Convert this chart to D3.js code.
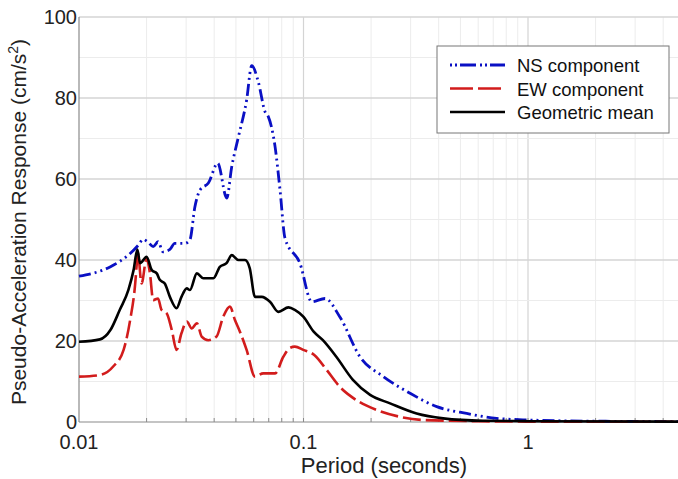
<!DOCTYPE html>
<html>
<head>
<meta charset="utf-8">
<script src="https://cdn.jsdelivr.net/npm/d3@7"></script>
<style>
  body { margin: 0; background: #fff; }
  text { font-family: "Liberation Sans", Arial, sans-serif; }
</style>
</head>
<body>
<svg id="chart" width="678" height="479"></svg>
<script>
// Periods (s) and responses (cm/s^2)
const nsPeriod = [0.01, 0.01375, 0.0169, 0.0184, 0.0193, 0.0204, 0.0214, 0.0225, 0.0237, 0.0254, 0.0267, 0.0296, 0.0312, 0.0328, 0.0346, 0.0377, 0.0415, 0.0455, 0.0479, 0.0513, 0.0558, 0.0588, 0.0629, 0.0674, 0.0697, 0.0747, 0.0786, 0.0827, 0.0964, 0.1088, 0.1247, 0.145, 0.1785, 0.227, 0.298, 0.392, 0.533, 0.725, 1, 2, 5];
const nsValue  = [36, 38.3, 41.6, 43.7, 45.1, 44.3, 43.3, 44.5, 42, 42.6, 44.1, 44.1, 45, 53, 57.3, 59, 63.9, 55.3, 63, 70.4, 79.5, 88, 84, 76.6, 75.4, 68, 57.3, 45.4, 39.2, 29.7, 30.5, 26, 16.1, 11.2, 7.1, 3.8, 2.1, 0.9, 0.5, 0.2, 0.1];

const ewPeriod = [0.01, 0.0124, 0.0142, 0.0158, 0.0169, 0.0178, 0.0181, 0.0183, 0.019, 0.02, 0.0207, 0.0214, 0.0225, 0.0233, 0.0246, 0.0259, 0.0272, 0.0286, 0.0302, 0.0318, 0.0335, 0.0352, 0.0377, 0.041, 0.0439, 0.047, 0.0495, 0.0521, 0.0558, 0.0608, 0.0662, 0.0747, 0.0813, 0.087, 0.0915, 0.0998, 0.112, 0.127, 0.145, 0.172, 0.211, 0.268, 0.34, 0.6, 1, 5];
const ewValue  = [11.2, 11.6, 13.7, 17.8, 25.2, 34.2, 39.2, 41.6, 34.2, 40.4, 36.7, 30.1, 30.5, 27.7, 26.8, 22.7, 17.8, 21.9, 24.8, 23.1, 24.4, 21.1, 20.2, 21.1, 26, 28.5, 25.2, 22.3, 17.8, 11.2, 12, 12, 16.1, 18.3, 18.6, 17.8, 16.5, 12.8, 8.7, 5.4, 3, 1.3, 0.5, 0.2, 0.1, 0.05];

const gmPeriod = [0.01, 0.0124, 0.0138, 0.0152, 0.0166, 0.0175, 0.0182, 0.0187, 0.02, 0.0211, 0.0222, 0.0229, 0.0241, 0.0254, 0.0272, 0.0286, 0.0302, 0.0312, 0.0335, 0.0358, 0.0397, 0.0424, 0.0454, 0.0479, 0.0513, 0.0549, 0.0576, 0.0608, 0.0652, 0.0709, 0.0773, 0.0857, 0.0915, 0.0998, 0.111, 0.122, 0.14, 0.166, 0.198, 0.243, 0.319, 0.419, 0.63, 1, 5];
const gmValue  = [19.8, 20.4, 22.7, 27.7, 32.6, 37.5, 42.6, 39.2, 40.8, 37.5, 36.7, 35.1, 34.2, 30.9, 28.1, 30.9, 33, 32.6, 36.7, 35.5, 35.5, 38.3, 39.2, 41.2, 40, 40, 38, 30.9, 30.9, 29.7, 27.2, 28.3, 27.7, 26, 22.3, 20.2, 16.1, 10.4, 6.7, 4.6, 2.1, 0.9, 0.3, 0.2, 0.1];

const seriesNames = ["NS component", "EW component", "Geometric mean"];
const xTickValues = [0.01, 0.1, 1];
const yTickValues = [0, 20, 40, 60, 80, 100];

const width = 678, height = 479;
const svg = d3.select("#chart");

const x = d3.scaleLog().domain([0.01, 1]).range([79, 528]);
const y = d3.scaleLinear().domain([0, 100]).range([422, 17]);
const xMax = 5;

const g = svg.append("g");

// minor / major grid
const minorX = [];
[0.01, 0.1, 1].forEach(function (d) {
  for (let k = 2; k <= 9; k++) if (d * k <= xMax) minorX.push(d * k);
});
g.selectAll(".gx-minor").data(minorX).enter().append("line")
  .attr("x1", d => x(d)).attr("x2", d => x(d))
  .attr("y1", y(0)).attr("y2", y(100))
  .style("stroke", "#ececec").style("stroke-width", 1);
g.selectAll(".gx-major").data([0.1, 1]).enter().append("line")
  .attr("x1", d => x(d)).attr("x2", d => x(d))
  .attr("y1", y(0)).attr("y2", y(100))
  .style("stroke", "#d4d4d4").style("stroke-width", 1.2);
g.selectAll(".gy").data(d3.range(10, 101, 10)).enter().append("line")
  .attr("x1", x(0.01)).attr("x2", width)
  .attr("y1", d => y(d)).attr("y2", d => y(d))
  .style("stroke", d => d % 20 === 0 ? "#d4d4d4" : "#ececec")
  .style("stroke-width", d => d % 20 === 0 ? 1.5 : 1);

// axes lines
g.append("line").attr("x1", x(0.01)).attr("x2", x(0.01)).attr("y1", y(0)).attr("y2", y(100))
  .style("stroke", "#8a8a8a").style("stroke-width", 1.2);
g.append("line").attr("x1", x(0.01)).attr("x2", width).attr("y1", y(0)).attr("y2", y(0))
  .style("stroke", "#8a8a8a").style("stroke-width", 1.2);
g.selectAll(".xt").data(minorX.concat([0.1, 1])).enter().append("line")
  .attr("x1", d => x(d)).attr("x2", d => x(d))
  .attr("y1", y(0)).attr("y2", y(0) - 4)
  .style("stroke", "#8a8a8a");

// tick labels
g.selectAll(".ylab").data(yTickValues).enter().append("text")
  .attr("x", x(0.01) - 2).attr("y", d => y(d) + 7)
  .attr("text-anchor", "end").style("font-size", "20px").style("fill", "#222")
  .text(d => d);
g.selectAll(".xlab").data(xTickValues).enter().append("text")
  .attr("x", d => x(d)).attr("y", 449)
  .attr("text-anchor", "middle").style("font-size", "20px").style("fill", "#222")
  .text(d => d);

// axis titles
g.append("text").attr("x", 384).attr("y", 473).attr("text-anchor", "middle")
  .style("font-size", "22px").style("fill", "#222").text("Period (seconds)");
const yt = g.append("text").attr("transform", "translate(26," + 222 + ") rotate(-90)")
  .attr("text-anchor", "middle").style("font-size", "21px").style("fill", "#222");
yt.append("tspan").text("Pseudo-Acceleration Response (cm/s");
yt.append("tspan").attr("dy", -8).style("font-size", "14px").text("2");
yt.append("tspan").attr("dy", 8).text(")");

// curves
const line = d3.line().x(d => x(d[0])).y(d => y(d[1])).curve(d3.curveMonotoneX);
const series = [
  { name: seriesNames[0], pts: d3.zip(nsPeriod, nsValue), color: "#0a10c4", dash: "12,4,2,4,2,4", w: 2.8 },
  { name: seriesNames[1], pts: d3.zip(ewPeriod, ewValue), color: "#d21c1c", dash: "18,5", w: 2.6 },
  { name: seriesNames[2], pts: d3.zip(gmPeriod, gmValue), color: "#000", dash: null, w: 2.6 }
];
g.selectAll(".curve").data(series).enter().append("path")
  .attr("class", "curve")
  .attr("d", d => line(d.pts))
  .style("fill", "none")
  .style("stroke", d => d.color)
  .style("stroke-width", d => d.w)
  .style("stroke-dasharray", d => d.dash);

// legend
const lg = g.append("g").attr("transform", "translate(437,46)");
lg.append("rect").attr("width", 232).attr("height", 87)
  .style("fill", "#fff").style("stroke", "#777").style("stroke-width", 1);
lg.selectAll(".li").data(series).enter().append("line")
  .attr("x1", 13).attr("x2", 68)
  .attr("y1", (d, i) => 19 + i * 23.5).attr("y2", (d, i) => 19 + i * 23.5)
  .style("stroke", d => d.color).style("stroke-width", d => d.w)
  .style("stroke-dasharray", d => d.dash ? (d.dash === "18,5" ? "23,5" : "2,3,2,3,16,4") : null);
lg.selectAll(".lt").data(series).enter().append("text")
  .attr("x", 80).attr("y", (d, i) => 26 + i * 23.5)
  .style("font-size", "18.5px").style("fill", "#111")
  .text(d => d.name);
</script>
</body>
</html>
